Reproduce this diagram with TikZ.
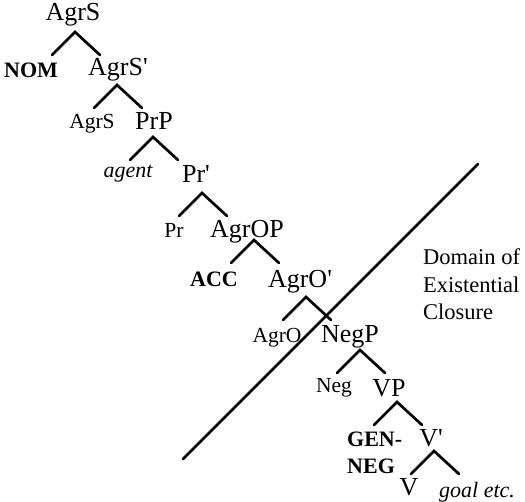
\documentclass[tikz,border=0pt]{standalone}
\usepackage{fontspec}
\setmainfont{Liberation Serif}
\tikzset{
  cat/.style={inner sep=0pt, anchor=base, font=\fontsize{26}{30}\selectfont},
  head/.style={inner sep=0pt, anchor=base, font=\fontsize{21.5}{26}\selectfont},
  casemark/.style={inner sep=0pt, anchor=base, font=\fontsize{22}{27}\selectfont\bfseries},
  role/.style={inner sep=0pt, anchor=base, font=\fontsize{22}{27}\selectfont\itshape},
  branchline/.style={line width=2.7pt, line cap=round},
}
% one ^ below a phrase label
\newcommand{\branch}[1]{\draw[branchline] (#1) ++(-23,23) -- (#1) -- ++(25,23);}
\newcommand{\xbar}{\textquotesingle}

\begin{document}
\begin{tikzpicture}[x=1pt, y=-1pt]
  \useasboundingbox (0,0) rectangle (525,502);
  % labels
  \node[cat] (agrs) at (73,21) {AgrS};
  \node[casemark] (nom) at (31,78) {NOM};
  \node[cat] (agrsbar) at (118,76) {AgrS\xbar};
  \node[head] (agrshead) at (92,129) {AgrS};
  \node[cat] (prp) at (154,130) {PrP};
  \node[role] (agent) at (128,178) {agent};
  \node[cat] (prbar) at (196,183) {Pr\xbar};
  \node[head] (prhead) at (174,238) {Pr};
  \node[cat] (agrop) at (247,238) {AgrOP};
  \node[casemark] (acc) at (214,287) {ACC};
  \node[cat] (agrobar) at (300,288) {AgrO\xbar};
  \node[head] (agrohead) at (277,343) {AgrO};
  \node[cat] (negp) at (350,343) {NegP};
  \node[head] (neghead) at (334,393) {Neg};
  \node[cat] (vp) at (389,397) {VP};
  \node[casemark, anchor=base west, align=left] (genneg) at (347,474) {GEN-\\NEG};
  \node[cat] (vbar) at (431,447) {V\xbar};
  \node[cat] (v) at (409,495) {V};
  \node[role, anchor=base west] (goal) at (439,497) {goal etc.};
  \node[head, anchor=base west, align=left, font=\fontsize{22.5}{27.5}\selectfont]
    (domain) at (423,320) {Domain of\\Existential\\Closure};
  % apexes of the branches
  \coordinate (agrs-a) at (75,32);
  \coordinate (agrsbar-a) at (117,85);
  \coordinate (prp-a) at (153,137);
  \coordinate (prbar-a) at (202,193);
  \coordinate (agrop-a) at (254,240);
  \coordinate (agrobar-a) at (306,297);
  \coordinate (negp-a) at (360,350);
  \coordinate (vp-a) at (397,402);
  \coordinate (vbar-a) at (434,451);
  \foreach \p in {agrs,agrsbar,prp,prbar,agrop,agrobar,negp,vp,vbar}
    {\branch{\p-a}}
  % boundary of the domain
  \coordinate (cut-lo) at (183,459);
  \coordinate (cut-hi) at (478,164);
  \draw[branchline] (cut-lo) -- (cut-hi);
\end{tikzpicture}
\end{document}
